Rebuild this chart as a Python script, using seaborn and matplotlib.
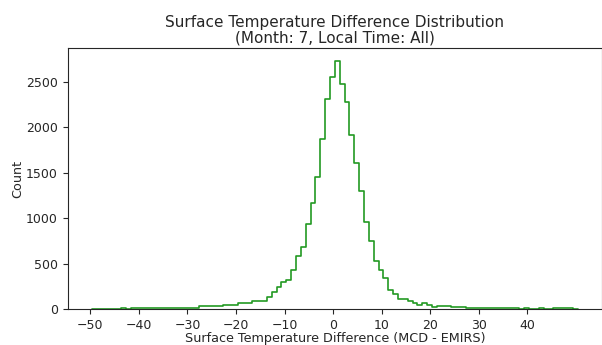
import matplotlib
matplotlib.use("Agg")
import matplotlib.pyplot as plt
import numpy as np
import pandas as pd
import seaborn as sns

# histogram of MCD - EMIRS surface temperature difference, 100 bins of width 1
bin_start = -49.65
bin_width = 1.0
counts = [
    4, 4, 5, 4, 5, 5, 6, 5, 6, 9,
    10, 9, 11, 10, 11, 10, 14, 13, 15, 14,
    7, 8, 29, 29, 35, 37, 38, 40, 48, 48,
    62, 62, 70, 86, 92, 91, 132, 183, 238, 293,
    318, 432, 578, 681, 937, 1164, 1456, 1870, 2305, 2547,
    2731, 2472, 2275, 1910, 1610, 1303, 962, 746, 525, 426,
    337, 214, 167, 110, 105, 88, 66, 44, 66, 44,
    22, 37, 37, 34, 22, 22, 20, 11, 11, 10,
    7, 7, 6, 15, 12, 7, 6, 6, 5, 6,
    5, 5, 6, 5, 5, 6, 7, 12, 8, 4,
]
xtick_values = list(range(-50, 50, 10))
ytick_values = list(range(0, 3000, 500))

edges = bin_start + bin_width * np.arange(len(counts) + 1)
df = pd.DataFrame({"diff": (edges[:-1] + edges[1:]) / 2, "count": counts})

sns.set_style("ticks")
plt.rcParams["font.family"] = ["DejaVu Sans"]

fig = plt.figure(figsize=(6.02, 3.45), dpi=100)
ax = fig.add_axes([67.7 / 602, 36 / 345, (602 - 67.7) / 602, 260.7 / 345])

sns.histplot(data=df, x="diff", weights="count", bins=edges.tolist(), element="step",
             fill=False, color="#229922", linewidth=1.2, ax=ax)

ax.set_xticks(xtick_values)
ax.set_yticks(ytick_values)
ax.tick_params(labelsize=9)
ax.set_xlabel("Surface Temperature Difference (MCD - EMIRS)", fontsize=9.2, labelpad=0)
ax.set_ylabel("Count", fontsize=9.2, labelpad=1)
ax.set_title("Surface Temperature Difference Distribution\n(Month: 7, Local Time: All)",
             fontsize=11, pad=4, linespacing=1.1)

fig.savefig("out.png", dpi=100)
